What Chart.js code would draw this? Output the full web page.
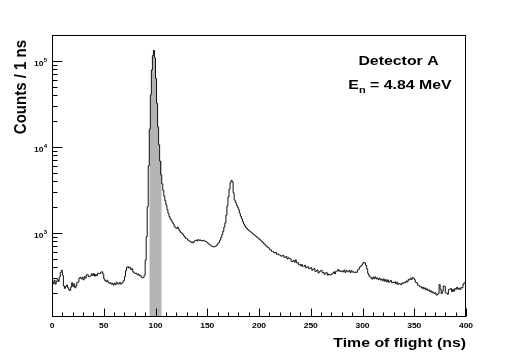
<!DOCTYPE html>
<html>
<head>
<meta charset="utf-8">
<title>Time of flight - Detector A</title>
<script src="https://cdn.jsdelivr.net/npm/chart.js@4"></script>
<style>
  html, body { margin: 0; padding: 0; background: #fff; }
  #wrap { width: 518px; height: 353px; position: relative; }
</style>
</head>
<body>
<div id="wrap"><canvas id="tofChart"></canvas></div>
<script>
// histogram: 1 ns bins, first bin starts at 0 ns
const binStart = 0;
const binWidth = 1;
const counts = [
  262, 274, 255, 280, 252, 270, 285, 272, 305, 345,
  365, 320, 240, 225, 238, 246, 230, 218, 212, 232,
  262, 236, 254, 228, 240, 265, 266, 296, 302, 290,
  302, 282, 308, 296, 322, 324, 308, 310, 314, 332,
  318, 334, 312, 326, 316, 338, 336, 334, 348, 350,
  330, 290, 275, 270, 280, 264, 258, 262, 252, 258,
  246, 258, 248, 265, 255, 252, 264, 252, 258, 266,
  278, 310, 360, 395, 402, 388, 395, 372, 380, 350,
  342, 335, 338, 325, 330, 316, 320, 305, 298, 302,
  320, 480, 900, 2000, 6000, 16000, 40000, 78000, 115000, 132000,
  108000, 62000, 32000, 17000, 10500, 6800, 4700, 3700, 3100, 2650,
  2350, 2100, 1850, 1680, 1540, 1450, 1390, 1320, 1260, 1180,
  1140, 1120, 1160, 1100, 1050, 1010, 990, 960, 920, 890,
  860, 850, 820, 805, 790, 770, 780, 760, 790, 810,
  820, 800, 830, 815, 820, 810, 800, 815, 800, 790,
  780, 760, 740, 725, 710, 695, 690, 680, 690, 700,
  720, 745, 770, 820, 880, 950, 1040, 1160, 1300, 1600,
  2050, 2600, 3200, 3800, 4050, 3900, 2900, 2400, 2250, 2100,
  1980, 1850, 1680, 1550, 1450, 1340, 1260, 1200, 1150, 1120,
  1080, 1060, 1030, 1010, 990, 960, 945, 920, 900, 880,
  860, 835, 820, 795, 780, 748, 740, 705, 695, 675,
  665, 636, 632, 605, 604, 585, 580, 590, 560, 565,
  550, 548, 532, 538, 545, 515, 518, 528, 495, 510,
  500, 495, 465, 462, 475, 455, 482, 445, 448, 425,
  430, 410, 425, 405, 405, 418, 390, 398, 402, 380,
  385, 392, 366, 375, 382, 355, 358, 368, 340, 350,
  358, 365, 342, 345, 328, 338, 342, 320, 330, 325,
  322, 332, 338, 350, 332, 355, 358, 372, 356, 362,
  352, 358, 350, 368, 345, 362, 356, 350, 364, 344,
  360, 348, 350, 342, 348, 345, 368, 375, 398, 408,
  420, 438, 452, 445, 415, 380, 335, 315, 305, 298,
  288, 305, 292, 306, 290, 296, 284, 296, 282, 288,
  275, 290, 272, 284, 268, 282, 265, 272, 278, 262,
  266, 262, 268, 254, 265, 250, 256, 254, 248, 260,
  258, 264, 262, 274, 268, 284, 282, 296, 286, 300,
  296, 284, 265, 262, 246, 245, 235, 235, 226, 232,
  222, 228, 216, 222, 212, 216, 205, 210, 200, 204,
  196, 200, 188, 190, 196, 250, 220, 195, 210, 240,
  238, 200, 198, 192, 218, 220, 224, 206, 218, 208,
  224, 220, 232, 220, 226, 218, 230, 228, 250, 262
];

// shaded gate (ns)
const gateFrom = 94;
const gateTo = 106;

// axes
const xMin = 0, xMax = 400;
const yMin = 104.5, yMax = 199000;
const xTickLabels = [0, 50, 100, 150, 200, 250, 300, 350, 400];
const xMinorStep = 10;
const yTickExponents = [3, 4, 5];

const xTitle = "Time of flight (ns)";
const yTitle = "Counts / 1 ns";
const label1 = "Detector A";
const label2 = ["E", "n", " = 4.84 MeV"];

const FONT = "'Liberation Sans', Arial, Helvetica, sans-serif";
const SX = 1.22; // the reference text is a bit wider than it is tall

function histPoints(from, to) {
  const pts = [];
  for (let i = 0; i < counts.length; i++) {
    const x = binStart + i * binWidth;
    if (x >= from && x < to) pts.push({ x: x, y: counts[i] });
  }
  const last = pts[pts.length - 1];
  pts.push({ x: last.x + binWidth, y: last.y });
  return pts;
}

function wideText(ctx, text, x, y, size, align) {
  ctx.save();
  ctx.translate(x, y);
  ctx.scale(SX, 1);
  ctx.font = "bold " + size + "px " + FONT;
  ctx.textAlign = align;
  ctx.textBaseline = "alphabetic";
  ctx.fillText(text, 0, 0);
  ctx.restore();
}

function textW(ctx, text, size) {
  ctx.font = "bold " + size + "px " + FONT;
  return ctx.measureText(text).width * SX;
}

// ROOT-like frame, inward ticks and labels
const rootFrame = {
  id: "rootFrame",
  afterDraw(chart) {
    const ctx = chart.ctx;
    const a = chart.chartArea;
    const xs = chart.scales.x;
    const ys = chart.scales.y;
    ctx.save();
    ctx.strokeStyle = "#000";
    ctx.fillStyle = "#000";
    ctx.lineWidth = 1;
    ctx.strokeRect(Math.round(a.left) + 0.5, Math.round(a.top) + 0.5,
      Math.round(a.right - a.left) - 1, Math.round(a.bottom - a.top) - 1);

    const bottom = Math.round(a.bottom) - 0.5;
    const left = Math.round(a.left) + 0.5;

    // x ticks
    ctx.beginPath();
    for (let v = xMin; v <= xMax; v += xMinorStep) {
      const px = Math.round(xs.getPixelForValue(v)) + 0.5;
      const len = v % 50 === 0 ? 8 : 4;
      ctx.moveTo(px, bottom);
      ctx.lineTo(px, bottom - len);
    }
    // y ticks
    for (let e = 2; e <= 5; e++) {
      for (let m = 1; m <= 9; m++) {
        const v = m * Math.pow(10, e);
        if (v < yMin || v > yMax) continue;
        const py = Math.round(ys.getPixelForValue(v)) + 0.5;
        const len = m === 1 ? 10 : 5;
        ctx.moveTo(left, py);
        ctx.lineTo(left + len, py);
      }
    }
    ctx.stroke();

    // x labels
    xTickLabels.forEach(v => {
      wideText(ctx, String(v), xs.getPixelForValue(v), a.bottom + 10.5, 7, "center");
    });
    // y labels 10^n
    yTickExponents.forEach(e => {
      const py = ys.getPixelForValue(Math.pow(10, e));
      wideText(ctx, "10", 43.5, py + 5, 7, "right");
      wideText(ctx, String(e), 43.8, py + 1.5, 5, "left");
    });

    // axis titles
    wideText(ctx, xTitle, a.right, 346.5, 13, "right");
    ctx.save();
    ctx.translate(25.5, 40);
    ctx.scale(1.15, 1);
    ctx.rotate(-Math.PI / 2);
    ctx.font = "bold 15px " + FONT;
    ctx.textAlign = "right";
    ctx.fillText(yTitle, 0, 0);
    ctx.restore();

    // labels
    wideText(ctx, label1, 398.5, 65, 13, "center");
    let x0 = 348.3;
    wideText(ctx, label2[0], x0, 89.3, 13, "left");
    x0 += textW(ctx, label2[0], 13);
    wideText(ctx, label2[1], x0, 93, 9, "left");
    x0 += textW(ctx, label2[1], 9);
    wideText(ctx, label2[2], x0, 89.3, 13, "left");
    ctx.restore();
  }
};

const ctx = document.getElementById("tofChart").getContext("2d");

new Chart(ctx, {
  type: "line",
  data: {
    datasets: [
      {
        label: "counts",
        data: histPoints(xMin, xMax),
        stepped: "after",
        borderColor: "#111",
        borderWidth: 1,
        pointRadius: 0,
        fill: false
      },
      {
        label: "gate",
        data: histPoints(gateFrom, gateTo),
        stepped: "after",
        borderWidth: 0,
        borderColor: "rgba(0,0,0,0)",
        backgroundColor: "#b4b4b4",
        pointRadius: 0,
        fill: "start"
      }
    ]
  },
  options: {
    responsive: true,
    maintainAspectRatio: false,
    animation: false,
    events: [],
    layout: { padding: { left: 52, right: 52, top: 35, bottom: 36 } },
    scales: {
      x: { type: "linear", min: xMin, max: xMax, display: false },
      y: { type: "logarithmic", min: yMin, max: yMax, display: false }
    },
    plugins: {
      legend: { display: false },
      tooltip: { enabled: false }
    }
  },
  plugins: [rootFrame]
});
</script>
</body>
</html>
